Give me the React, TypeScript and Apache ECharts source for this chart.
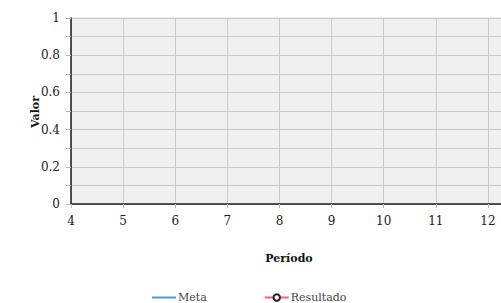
import React, { useEffect, useRef } from "react";
import * as echarts from "echarts";

const periods: number[] = [];
const meta: number[] = [];
const resultado: number[] = [];
const seriesNames = ["Meta", "Resultado"];

export default function App() {
  const ref = useRef<HTMLDivElement>(null);
  useEffect(() => {
    if (!ref.current) return;
    const chart = echarts.init(ref.current, undefined, { renderer: "svg" });
    const font = "DejaVu Serif";
    chart.setOption({
      animation: false,
      textStyle: { fontFamily: font },
      grid: { left: 71, top: 18, width: 469, height: 186, show: true, backgroundColor: "#efefef", borderColor: "#d8d8d8", borderWidth: 1 },
      xAxis: {
        type: "value",
        min: 4,
        max: 13,
        interval: 1,
        axisLine: { lineStyle: { color: "#222", width: 1.5 } },
        axisTick: { show: true, length: 4, lineStyle: { color: "#bbb" } },
        axisLabel: { color: "#222", fontSize: 12, margin: 11, fontFamily: font, formatter: (v: number) => (v > 12 ? "" : String(v)) },
        splitLine: { show: true, lineStyle: { color: "#c8c8c8", width: 1 } },
      },
      yAxis: {
        type: "value",
        min: 0,
        max: 1,
        interval: 0.1,
        axisLine: { show: true, lineStyle: { color: "#222", width: 1.5 } },
        axisTick: { show: true, length: 5, lineStyle: { color: "#bbb" } },
        axisLabel: {
          color: "#222",
          fontSize: 12,
          margin: 11,
          fontFamily: font,
          formatter: (v: number) => (Math.round(v * 10) % 2 === 0 ? String(Math.round(v * 10) / 10) : ""),
        },
        splitLine: { show: true, lineStyle: { color: "#c8c8c8", width: 1 } },
      },
      legend: {
        left: 146,
        top: 287,
        itemGap: 57,
        itemWidth: 24,
        itemHeight: 8,
        textStyle: { color: "#444", fontSize: 11, fontFamily: font, padding: [0, 0, 0, -3] },
        data: [
          { name: seriesNames[0], itemStyle: { opacity: 0 } },
          { name: seriesNames[1] },
        ],
      },
      graphic: [
        { type: "text", x: 289, y: 258, style: { text: "Período", font: "bold 11px " + font, fill: "#111", textAlign: "center", textVerticalAlign: "middle" } },
        { type: "text", x: 35, y: 112, rotation: Math.PI / 2, style: { text: "Valor", font: "bold 11px " + font, fill: "#111", textAlign: "center", textVerticalAlign: "middle" } },
      ],
      series: [
        { name: seriesNames[0], type: "line", symbol: "none", color: "#4a97cf", lineStyle: { color: "#4a97cf", width: 1.5 }, data: periods.map((p, i) => [p, meta[i]]) },
        {
          name: seriesNames[1],
          type: "line",
          symbol: "circle",
          symbolSize: 6,
          lineStyle: { color: "#ff5c85", width: 1.5 },
          itemStyle: { color: "#fff", borderColor: "#222", borderWidth: 1.5 },
          data: periods.map((p, i) => [p, resultado[i]]),
        },
      ],
    });
    return () => chart.dispose();
  }, []);
  return (
    <div style={{ position: "fixed", left: 0, top: 0, width: 501, height: 303, overflow: "hidden", background: "#fff" }}>
      <div ref={ref} style={{ width: 545, height: 303 }} />
    </div>
  );
}
